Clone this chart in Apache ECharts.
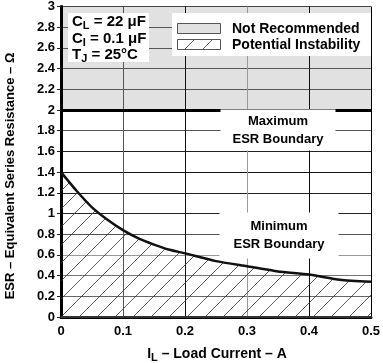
<!DOCTYPE html>
<html>
<head>
<meta charset="utf-8">
<script src="https://cdn.jsdelivr.net/npm/echarts@6/dist/echarts.min.js"></script>
<style>html,body{margin:0;padding:0;background:#fff}#c{width:383px;height:363px}</style>
</head>
<body>
<div id="c"></div>
<script>
// Data
const loadCurrent = [0, 0.025, 0.05, 0.075, 0.1, 0.125, 0.15, 0.175, 0.2, 0.25, 0.3, 0.35, 0.4, 0.45, 0.5];
const minEsr = [1.40, 1.22, 1.06, 0.94, 0.84, 0.76, 0.70, 0.65, 0.615, 0.54, 0.49, 0.44, 0.41, 0.36, 0.34];
const maxEsrLimit = 2;
const yMax = 3;
const conditions = ['C|L| = 22 μF', 'C|I| = 0.1 μF', 'T|J| = 25°C'];
const legendItems = ['Not Recommended', 'Potential Instability'];
const xTitle = ['I', 'L', ' – Load Current – A'];
const yTitle = 'ESR – Equivalent Series Resistance – Ω';

const FONT = '"Liberation Sans", Arial, sans-serif';

function hatchCanvas() {
  const s = 18;
  const c = document.createElement('canvas');
  c.width = s; c.height = s;
  const g = c.getContext('2d');
  g.strokeStyle = '#333';
  g.lineWidth = 0.8;
  g.beginPath();
  g.moveTo(0, s); g.lineTo(s, 0);
  g.moveTo(-3, 3); g.lineTo(3, -3);
  g.moveTo(s - 3, s + 3); g.lineTo(s + 3, s - 3);
  g.stroke();
  return c;
}
const hatch = { image: hatchCanvas(), repeat: 'repeat' };

const chart = echarts.init(document.getElementById('c'), null, { renderer: 'canvas' });

const yLineColors = ['#000', '#666', '#777', '#999', '#555', '#222', '#222', '#111', '#222', '#555', '#000', '#555', '#555', '#555', '#555', '#444'];
const ySplitAreas = [];
for (let i = 0; i < 15; i++) ySplitAreas.push(i < 10 ? '#ffffff' : '#e1e1e1');
const xLineColors = ['#000', '#555', '#111', '#999', '#111', '#000'];

function makeRich(main, sub, drop) {
  return {
    b: { fontFamily: FONT, fontWeight: 'bold', fontSize: main, lineHeight: main + 2, fill: '#000' },
    s: { fontFamily: FONT, fontWeight: 'bold', fontSize: sub, lineHeight: sub, verticalAlign: 'bottom', padding: [0, 0, -drop, 0], fill: '#000' }
  };
}
const condRich = makeRich(15, 11, 1);
function richSub(str) {
  const p = str.split('|');
  return '{b|' + p[0] + '}{s|' + p[1] + '}{b|' + p[2] + '}';
}

const option = {
  animation: false,
  grid: { left: 61, right: 11, top: 5, bottom: 46 },
  xAxis: [{
    type: 'value', min: 0, max: 0.5, interval: 0.1,
    axisLine: { show: true, lineStyle: { color: '#000', width: 3 } },
    axisTick: { show: false },
    axisLabel: { color: '#000', fontFamily: FONT, fontWeight: 'bold', fontSize: 13, margin: 8 },
    splitLine: { show: true, lineStyle: { color: xLineColors, width: 1 } }
  }, {
    type: 'value', position: 'top', min: 0, max: 0.5,
    axisLine: { show: true, lineStyle: { color: '#444', width: 1.5 } },
    axisTick: { show: false }, axisLabel: { show: false }, splitLine: { show: false }
  }],
  yAxis: [{
    type: 'value', min: 0, max: yMax, interval: 0.2,
    axisLine: { show: true, lineStyle: { color: '#000', width: 3 } },
    axisTick: { show: true, length: 4, lineStyle: { color: '#222', width: 1 } },
    axisLabel: { color: '#000', fontFamily: FONT, fontWeight: 'bold', fontSize: 13, margin: 6 },
    splitLine: { show: true, lineStyle: { color: yLineColors, width: 1 } },
    splitArea: { show: true, areaStyle: { color: ySplitAreas } }
  }, {
    type: 'value', position: 'right', min: 0, max: yMax, interval: 0.2,
    axisLine: { show: true, lineStyle: { color: '#000', width: 3 } },
    axisTick: { show: false }, axisLabel: { show: false }, splitLine: { show: false }
  }],
  series: [{
    type: 'line',
    data: loadCurrent.map((x, i) => [x, minEsr[i]]),
    showSymbol: false,
    smooth: 0.2,
    lineStyle: { color: '#111', width: 2.5 },
    areaStyle: { color: hatch, opacity: 1 },
    z: 3,
    markLine: {
      silent: true, symbol: 'none', label: { show: false },
      lineStyle: { color: '#000', width: 3, type: 'solid' },
      data: [{ yAxis: maxEsrLimit }]
    }
  }],
  graphic: [
    // conditions box
    { type: 'rect', shape: { x: 68, y: 13, width: 81, height: 49 }, style: { fill: '#fff' }, z: 50 },
    ...conditions.map((t, i) => ({
      type: 'text', x: 72, y: 22 + i * 16.5, z: 51,
      style: { text: richSub(t), rich: condRich, align: 'left', verticalAlign: 'middle' }
    })),
    // legend box
    { type: 'rect', shape: { x: 172, y: 13, width: 199, height: 43 }, style: { fill: '#fff' }, z: 50 },
    { type: 'rect', shape: { x: 177.5, y: 23.5, width: 43, height: 10 }, style: { fill: '#e1e1e1', stroke: '#555', lineWidth: 1 }, z: 51 },
    { type: 'rect', shape: { x: 177.5, y: 39.5, width: 43, height: 10 }, style: { fill: hatch, stroke: '#555', lineWidth: 1 }, z: 51 },
    ...legendItems.map((t, i) => ({
      type: 'text', x: 232, y: 29 + i * 16.5, z: 51,
      style: { text: t, font: 'bold 14px ' + FONT, fill: '#000', align: 'left', verticalAlign: 'middle' }
    })),
    // region labels
    { type: 'text', x: 278, y: 130, z: 51,
      style: { text: 'Maximum\nESR Boundary', font: 'bold 13px ' + FONT, lineHeight: 18, fill: '#000', align: 'center', verticalAlign: 'middle', backgroundColor: '#fff', padding: [2, 12, 3, 12] } },
    { type: 'text', x: 279, y: 235.5, z: 51,
      style: { text: 'Minimum\nESR Boundary', font: 'bold 13px ' + FONT, lineHeight: 18, fill: '#000', align: 'center', verticalAlign: 'middle', backgroundColor: '#fff', padding: [5, 14, 5, 14] } },
    // axis titles
    { type: 'text', x: 217, y: 354, z: 51,
      style: { text: '{b|' + xTitle[0] + '}{s|' + xTitle[1] + '}{b|' + xTitle[2] + '}', rich: makeRich(14, 11, 1), align: 'center', verticalAlign: 'middle' } },
    { type: 'text', x: 10, y: 176, rotation: Math.PI / 2, z: 51,
      style: { text: yTitle, font: 'bold 13px ' + FONT, fill: '#000', align: 'center', verticalAlign: 'middle' } }
  ]
};
chart.setOption(option);
</script>
</body>
</html>
